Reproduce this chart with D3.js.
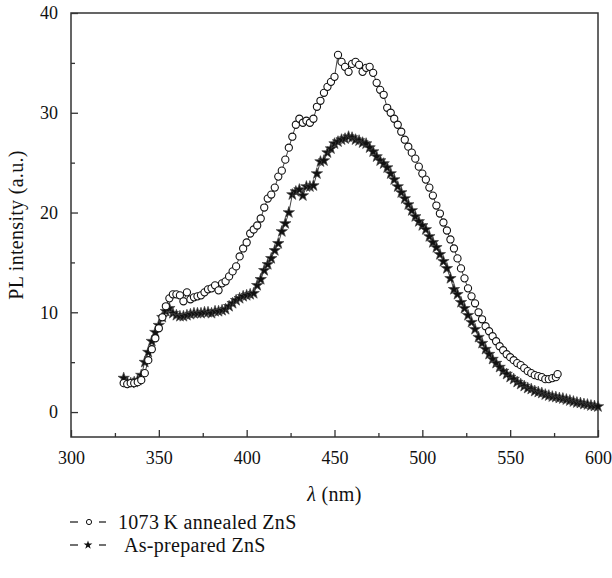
<!DOCTYPE html>
<html>
<head>
<meta charset="utf-8">
<script src="https://cdn.jsdelivr.net/npm/d3@7/dist/d3.min.js"></script>
<style>
  html, body { margin: 0; padding: 0; background: #fff; }
  svg { display: block; }
  text { font-family: "Liberation Serif", "DejaVu Serif", serif; fill: #111; }
  .ttl { letter-spacing: 0.3px; }
</style>
</head>
<body>
<script>
// ---- Data ----
const annealedWavelength = [330,332,334,336,338,340,342,344,346,348,350,352,354,356,358,360,362,364,366,368,370,372,374,376,378,380,382,384,386,388,390,392,394,396,398,400,402,404,406,408,410,412,414,416,418,420,422,424,426,428,430,432,434,436,438,440,442,444,446,448,450,452,454,456,458,460,462,464,466,468,470,472,474,476,478,480,482,484,486,488,490,492,494,496,498,500,502,504,506,508,510,512,514,516,518,520,522,524,526,528,530,532,534,536,538,540,542,544,546,548,550,552,554,556,558,560,562,564,566,568,570,572,574,576,577];
const annealedIntensity = [2.9,2.8,2.9,2.9,3.0,3.2,3.9,5.2,6.3,7.4,8.4,9.5,10.6,11.4,11.8,11.8,11.7,11.1,12.0,11.3,11.5,11.6,11.7,12.0,12.3,12.4,12.7,12.2,12.9,13.1,13.6,14.1,14.6,15.6,16.4,17.0,17.9,18.3,18.7,19.4,20.5,21.4,21.8,22.5,23.6,24.2,25.3,26.5,27.6,28.8,29.4,29.0,29.2,29.0,29.4,30.6,31.2,32.0,32.6,33.1,33.6,35.8,35.1,34.6,34.1,34.9,35.1,34.8,34.1,34.5,34.6,34.0,33.0,32.3,31.8,30.5,30.0,29.4,28.8,28.1,27.3,26.6,26.0,25.4,24.6,23.9,23.3,22.5,21.7,20.7,19.9,19.0,18.2,17.3,16.4,15.4,14.4,13.4,12.4,11.6,10.9,10.0,9.3,8.6,8.1,7.6,7.1,6.6,6.2,5.8,5.5,5.2,4.9,4.7,4.4,4.1,3.9,3.7,3.6,3.5,3.3,3.3,3.4,3.5,3.8];

const preparedWavelength = [330,332,334,336,338,340,342,344,346,348,350,352,354,356,358,360,362,364,366,368,370,372,374,376,378,380,382,384,386,388,390,392,394,396,398,400,402,404,406,408,410,412,414,416,418,420,422,424,426,428,430,432,434,436,438,440,442,444,446,448,450,452,454,456,458,460,462,464,466,468,470,472,474,476,478,480,482,484,486,488,490,492,494,496,498,500,502,504,506,508,510,512,514,516,518,520,522,524,526,528,530,532,534,536,538,540,542,544,546,548,550,552,554,556,558,560,562,564,566,568,570,572,574,576,578,580,582,584,586,588,590,592,594,596,598,600];
const preparedIntensity = [3.4,3.0,2.9,3.0,3.2,3.7,5.0,6.0,7.1,8.0,8.7,9.5,10.1,10.4,9.9,9.7,9.6,9.6,9.7,9.8,9.9,9.9,9.9,10.0,10.0,9.9,10.1,10.1,10.2,10.3,10.6,10.9,11.2,11.4,11.6,11.7,11.8,11.9,12.7,13.3,14.2,14.8,15.4,16.2,16.9,18.1,18.9,20.0,21.8,22.1,22.3,21.7,22.6,22.6,22.7,23.9,25.1,25.2,26.0,26.4,26.9,27.1,27.3,27.4,27.6,27.5,27.3,27.2,27.0,26.9,26.5,26.1,25.6,25.2,24.9,24.5,23.9,23.3,22.6,22.0,21.4,20.8,20.2,19.6,19.1,18.7,18.3,17.6,17.0,16.5,15.8,15.1,14.4,13.4,12.3,11.8,11.0,10.4,9.7,9.0,8.3,7.5,6.9,6.3,5.8,5.3,4.9,4.5,4.1,3.8,3.5,3.3,3.0,2.8,2.6,2.4,2.3,2.1,2.0,1.9,1.75,1.65,1.55,1.5,1.4,1.35,1.25,1.15,1.05,0.95,0.9,0.8,0.75,0.65,0.6,0.55];

const xTicks = [300,350,400,450,500,550,600];
const yTicks = [0,10,20,30,40];
const seriesNames = ["1073\u2009K annealed ZnS", "As-prepared ZnS"];

// ---- Layout ----
const W = 612, H = 578;
const m = { left: 71, right: 14, top: 13, bottom: 141 };
const FS = 20, TFS = 18;

const svg = d3.select("body").append("svg").attr("width", W).attr("height", H);

const x = d3.scaleLinear().domain([300, 600]).range([m.left, W - m.right]);
const y = d3.scaleLinear().domain([-2.5, 40]).range([H - m.bottom, m.top]);

const axisColor = "#333";

// frame
svg.append("rect")
  .attr("x", x(300)).attr("y", y(40))
  .attr("width", x(600) - x(300)).attr("height", y(-2.5) - y(40))
  .attr("fill", "none").attr("stroke", axisColor).attr("stroke-width", 1.5);

// bottom axis: major ticks + minor ticks (inward)
const xAxis = d3.axisBottom(x).tickValues(xTicks).tickSizeInner(-7).tickSizeOuter(0).tickPadding(14).tickFormat(d3.format("d"));
const gx = svg.append("g").attr("transform", `translate(0,${y(-2.5)})`).call(xAxis);
const xMinor = d3.axisBottom(x).tickValues(d3.range(325, 600, 50)).tickSizeInner(-4).tickSizeOuter(0).tickFormat("");
const gxm = svg.append("g").attr("transform", `translate(0,${y(-2.5)})`).call(xMinor);

const yAxis = d3.axisLeft(y).tickValues(yTicks).tickSizeInner(-7).tickSizeOuter(0).tickPadding(13).tickFormat(d3.format("d"));
const gy = svg.append("g").attr("transform", `translate(${x(300)},0)`).call(yAxis);
const yMinor = d3.axisLeft(y).tickValues([5,15,25,35]).tickSizeInner(-4).tickSizeOuter(0).tickFormat("");
const gym = svg.append("g").attr("transform", `translate(${x(300)},0)`).call(yMinor);

[gx, gxm, gy, gym].forEach(g => {
  g.select(".domain").remove();
  g.selectAll(".tick line").attr("stroke", axisColor).attr("stroke-width", 1.3);
  g.selectAll(".tick text").attr("font-size", TFS).attr("fill", "#111")
    .attr("font-family", "'Liberation Serif', serif");
});

// axis titles
svg.append("text").attr("class", "ttl")
  .attr("transform", `translate(23,${(y(40) + y(-2.5)) / 2}) rotate(-90)`)
  .attr("text-anchor", "middle").attr("font-size", FS)
  .text("PL intensity (a.u.)");

const xt = svg.append("text").attr("class", "ttl")
  .attr("x", (x(300) + x(600)) / 2).attr("y", 501)
  .attr("text-anchor", "middle").attr("font-size", FS);
xt.append("tspan").attr("font-style", "italic").text("\u03BB");
xt.append("tspan").text(" (nm)");

// ---- series ----
const annealed = annealedWavelength.map((w, i) => ({ w, v: annealedIntensity[i] }));
const prepared = preparedWavelength.map((w, i) => ({ w, v: preparedIntensity[i] }));

const line = d3.line().x(d => x(d.w)).y(d => y(d.v));
const star = d3.symbol().type(d3.symbolStar).size(40);

svg.append("path").datum(prepared).attr("d", line)
  .attr("fill", "none").attr("stroke", "#111").attr("stroke-width", 0.8);
svg.append("g").selectAll("path").data(prepared).join("path")
  .attr("transform", d => `translate(${x(d.w)},${y(d.v)})`)
  .attr("d", star).attr("fill", "#111").attr("stroke", "#444").attr("stroke-width", 0.7);

svg.append("path").datum(annealed).attr("d", line)
  .attr("fill", "none").attr("stroke", "#111").attr("stroke-width", 0.8);
svg.append("g").selectAll("circle").data(annealed).join("circle")
  .attr("cx", d => x(d.w)).attr("cy", d => y(d.v)).attr("r", 3.6)
  .attr("fill", "#fff").attr("stroke", "#111").attr("stroke-width", 1.1);

// ---- legend ----
const legY = [522, 545];
const lg = svg.append("g");
legY.forEach((ly, i) => {
  lg.append("line").attr("x1", 70).attr("x2", 78).attr("y1", ly).attr("y2", ly).attr("stroke", "#111").attr("stroke-width", 1.2);
  lg.append("line").attr("x1", 99).attr("x2", 106).attr("y1", ly).attr("y2", ly).attr("stroke", "#111").attr("stroke-width", 1.2);
  if (i === 0) {
    lg.append("circle").attr("cx", 89).attr("cy", ly).attr("r", 2.6).attr("fill", "#fff").attr("stroke", "#111").attr("stroke-width", 1);
  } else {
    lg.append("path").attr("transform", `translate(88,${ly})`).attr("d", d3.symbol().type(d3.symbolStar).size(24)).attr("fill", "#111");
  }
  lg.append("text").attr("class", "ttl").attr("x", i === 0 ? 118 : 124).attr("y", ly).attr("dy", "0.35em")
    .attr("font-size", FS).text(seriesNames[i]);
});
</script>
</body>
</html>
